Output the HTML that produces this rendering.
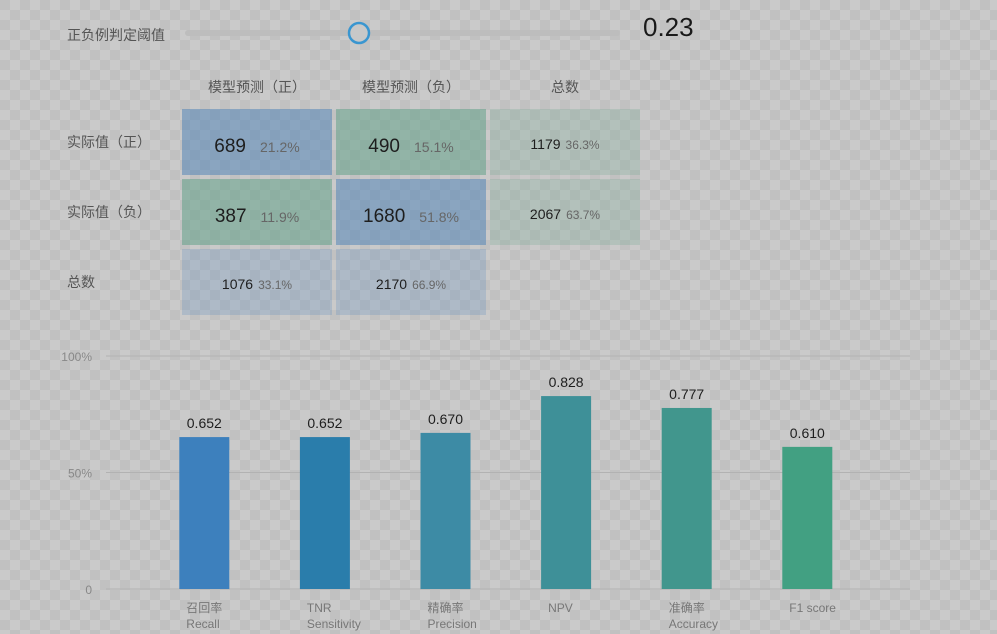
<!DOCTYPE html>
<html><head><meta charset="utf-8">
<style>
body{margin:0;width:997px;height:634px;overflow:hidden;font-family:"Liberation Sans","Noto Sans CJK SC",sans-serif;
background-color:#cacaca;background-image:conic-gradient(#c1c1c1 25%,transparent 0 50%,#c1c1c1 0 75%,transparent 0);background-size:20px 20px;background-position:10px 0;}
svg{position:absolute;left:0;top:0}
</style></head><body>
<svg width="997" height="634">
<text x="67" y="40" font-size="14" fill="#555">正负例判定阈值</text>
<rect x="185" y="30" width="435" height="6" rx="3" fill="#bdbdbd"/>
<circle cx="359" cy="33" r="10" fill="#c8c8c8" stroke="#3a96d0" stroke-width="2.5"/>
<text x="643" y="36" font-size="26" fill="#1a1a1a">0.23</text>
<g id="matrix"></g>
<g id="chart"></g>
</svg>
<script>
const NS="http://www.w3.org/2000/svg";
function mk(t,a,p){const e=document.createElementNS(NS,t);for(const k in a)e.setAttribute(k,a[k]);p.appendChild(e);return e;}
// matrix
const M=document.getElementById('matrix');
const colHeads=["模型预测（正）","模型预测（负）","总数"];
const rowHeads=["实际值（正）","实际值（负）","总数"];
const cellCounts=[["689","490","1179"],["387","1680","2067"],["1076","2170",""]];
const cellPcts=[["21.2%","15.1%","36.3%"],["11.9%","51.8%","63.7%"],["33.1%","66.9%",""]];
const cx0=[182,336,490],cy0=[109,179,249];
colHeads.forEach((h,i)=>{const t=mk('text',{x:cx0[i]+75,y:92,'font-size':14,fill:'#555','text-anchor':'middle'},M);t.textContent=h;

});
rowHeads.forEach((h,i)=>{const t=mk('text',{x:67,y:cy0[i]+38,'font-size':14,fill:'#555'},M);t.textContent=h;

});
for(let r=0;r<3;r++)for(let c=0;c<3;c++){
 if(!cellCounts[r][c])continue;
 let fill,big;
 if(r<2&&c<2){fill=(r===c)?'rgba(60,120,180,0.45)':'rgba(70,150,120,0.42)';big=true;}
 else if(c===2){fill='rgba(90,160,130,0.2)';big=false;}
 else {fill='rgba(90,140,190,0.25)';big=false;}
 const g=mk('g',{},M);
 
 
 mk('rect',{x:cx0[c],y:cy0[r],width:150,height:66,fill:fill},g);
 const t=mk('text',{x:cx0[c]+75,y:cy0[r]+(big?43:40),'text-anchor':'middle'},g);
 const a=mk('tspan',{'font-size':big?19:14,fill:'#1e1e1e'},t);a.textContent=cellCounts[r][c];
 const b=mk('tspan',{'font-size':big?14:12,fill:'#666',dx:big?14:5},t);b.textContent=cellPcts[r][c];
}
// bar chart
const C=document.getElementById('chart');
const categories=["召回率|Recall","TNR|Sensitivity","精确率|Precision","NPV","准确率|Accuracy","F1 score"];
const values=[0.652,0.652,0.670,0.828,0.777,0.610];
const valueLabels=["0.652","0.652","0.670","0.828","0.777","0.610"];
const tickValues=[0,0.5,1];
const tickLabels=["0","50%","100%"];
const colors=["#3d80bd","#2a7dab","#3d8ba5","#3e9098","#41968d","#42a082"];
const y0=589,yk=233;
const y=v=>y0-v*yk;
const bandStart=144,step=120.6,barW=50;
const x=i=>bandStart+step*(i+0.5);
tickValues.forEach((v,i)=>{
 const l=mk('line',{x1:106,x2:910,y1:y(v),y2:y(v),stroke:'#b2b2b2','stroke-width':1},C);
 
 
 const t=mk('text',{x:92,y:y(v)+5,'font-size':12,fill:'#888','text-anchor':'end'},C);t.textContent=tickLabels[i];
 
 
});
values.forEach((v,i)=>{
 const r=mk('rect',{x:x(i)-barW/2,y:y(v),width:barW,height:y0-y(v),fill:colors[i]},C);
 
 
 const t=mk('text',{x:x(i),y:y(v)-9,'font-size':14,fill:'#1e1e1e','text-anchor':'middle'},C);t.textContent=valueLabels[i];
 
 
 const parts=categories[i].split('|');
 parts.forEach((p,j)=>{
  const lt=mk('text',{x:x(i)-barW/2+7,y:612+j*16,'font-size':12,fill:'#777'},C);lt.textContent=p;
  
  
 });
});
</script>
</body></html>
